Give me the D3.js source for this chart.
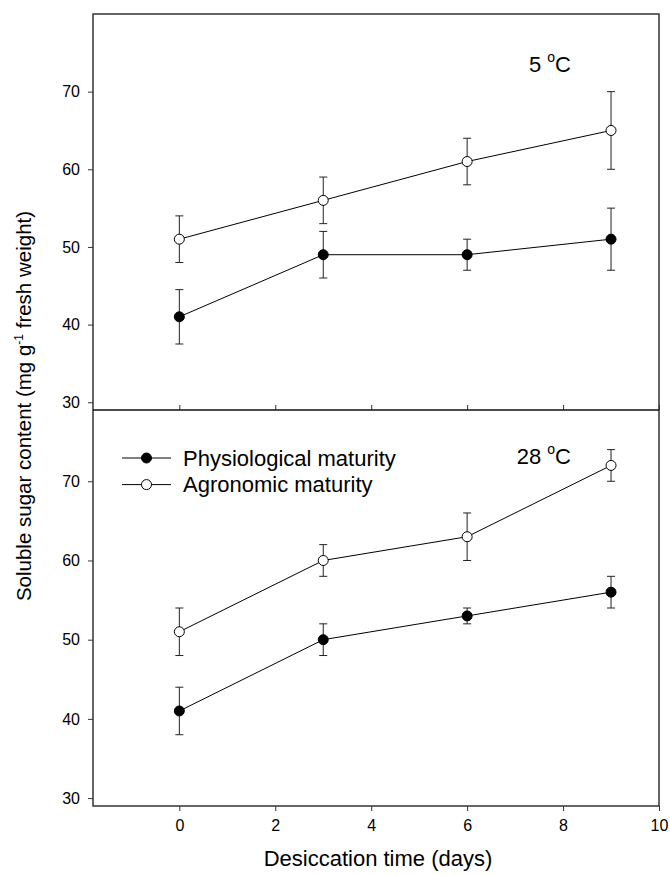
<!DOCTYPE html>
<html>
<head>
<meta charset="utf-8">
<script src="https://cdn.jsdelivr.net/npm/d3@7"></script>
<style>
    body { margin: 0; background: #fff; }
    svg text { font-family: "Liberation Sans", Arial, sans-serif; fill: #000; }
</style>
</head>
<body>
<div id="chart"></div>
<script>

// desiccation days
let days = [0, 3, 6, 9];
let xTicks = [0, 2, 4, 6, 8, 10];
let yTicks = [30, 40, 50, 60, 70];

// 5 C panel
let physio5 = [41, 49, 49, 51];
let physio5Err = [3.5, 3, 2, 4];
let agro5 = [51, 56, 61, 65];
let agro5Err = [3, 3, 3, 5];

// 28 C panel
let physio28 = [41, 50, 53, 56];
let physio28Err = [3, 2, 1, 2];
let agro28 = [51, 60, 63, 72];
let agro28Err = [3, 2, 3, 2];

let seriesNames = ["Physiological maturity", "Agronomic maturity"];

let width = 670, height = 875;
let left = 93, right = 659;
let topPanel = {y0: 14, y1: 410, domain: [29, 80], label: "5", isBottom: false};
let botPanel = {y0: 410, y1: 806, domain: [29, 79], label: "28", isBottom: true};

let svg = d3.select("#chart").append("svg")
    .attr("width", width)
    .attr("height", height);

let x = d3.scaleLinear().domain([-1.8, 10]).range([left, right]);

function drawPanel(p, physio, physioErr, agro, agroErr) {
    let y = d3.scaleLinear().domain(p.domain).range([p.y1, p.y0]);
    let g = svg.append("g");

    // y axis, ticks pointing out
    g.append("g")
        .attr("transform", `translate(${left},0)`)
        .call(d3.axisLeft(y).tickValues(yTicks).tickSize(5).tickPadding(8).tickFormat(d3.format("d")))
        .call(a => a.select(".domain").remove())
        .call(a => a.selectAll("line").attr("stroke", "#333"))
        .call(a => a.selectAll("text").style("font-size", "16px").attr("fill", "#000"));

    // x axis - labels only on bottom panel
    let xa = p.isBottom
        ? d3.axisBottom(x).tickValues(xTicks).tickSize(5).tickPadding(9)
        : d3.axisTop(x).tickValues(xTicks).tickSize(5).tickFormat("");
    g.append("g")
        .attr("transform", `translate(0,${p.y1})`)
        .call(xa)
        .call(a => a.select(".domain").remove())
        .call(a => a.selectAll("line").attr("stroke", "#333"))
        .call(a => a.selectAll("text").style("font-size", "16px").attr("fill", "#000"));

    let rows = [
        {vals: physio, err: physioErr, fill: "#000"},
        {vals: agro, err: agroErr, fill: "#fff"}
    ];

    let line = d3.line()
        .x((d, i) => x(days[i]))
        .y(d => y(d));

    rows.forEach(r => {
        let pts = r.vals.map((v, i) => ({x: days[i], v: v, e: r.err[i]}));

        // error bars
        let eb = g.append("g").attr("stroke", "#222").attr("stroke-width", 1);
        eb.selectAll(".ev").data(pts).enter().append("line")
            .attr("x1", d => x(d.x)).attr("x2", d => x(d.x))
            .attr("y1", d => y(d.v - d.e)).attr("y2", d => y(d.v + d.e));
        eb.selectAll(".cap-hi").data(pts).enter().append("line")
            .attr("x1", d => x(d.x) - 4).attr("x2", d => x(d.x) + 4)
            .attr("y1", d => y(d.v + d.e)).attr("y2", d => y(d.v + d.e));
        eb.selectAll(".cap-lo").data(pts).enter().append("line")
            .attr("x1", d => x(d.x) - 4).attr("x2", d => x(d.x) + 4)
            .attr("y1", d => y(d.v - d.e)).attr("y2", d => y(d.v - d.e));

        g.append("path")
            .datum(r.vals)
            .attr("d", line)
            .attr("fill", "none")
            .attr("stroke", "#000")
            .attr("stroke-width", 1);
    });

    // markers on top
    rows.forEach(r => {
        g.selectAll(null).data(r.vals).enter().append("circle")
            .attr("cx", (d, i) => x(days[i]))
            .attr("cy", d => y(d))
            .attr("r", 5)
            .attr("fill", r.fill)
            .attr("stroke", "#000")
            .attr("stroke-width", 1);
    });

    // temperature label
    let t = g.append("text")
        .attr("x", 571)
        .attr("y", p.isBottom ? 464 : 72)
        .attr("text-anchor", "end")
        .style("font-size", "22px");
    t.append("tspan").text(p.label + " ");
    t.append("tspan").text("o").style("font-size", "14px").attr("dy", -10);
    t.append("tspan").text("C").attr("dy", 10);
}

drawPanel(topPanel, physio5, physio5Err, agro5, agro5Err);
drawPanel(botPanel, physio28, physio28Err, agro28, agro28Err);

// frame
svg.append("rect")
    .attr("x", left).attr("y", topPanel.y0)
    .attr("width", right - left).attr("height", botPanel.y1 - topPanel.y0)
    .attr("fill", "none").attr("stroke", "#333").attr("stroke-width", 1.5);
svg.append("line")
    .attr("x1", left).attr("x2", right)
    .attr("y1", topPanel.y1).attr("y2", topPanel.y1)
    .attr("stroke", "#111").attr("stroke-width", 1.5);

// legend
let legend = svg.append("g").attr("transform", "translate(122,458)");
seriesNames.forEach((name, i) => {
    let row = legend.append("g").attr("transform", `translate(0,${i * 26.6})`);
    row.append("line").attr("x1", 0).attr("x2", 49).attr("y1", 0).attr("y2", 0)
        .attr("stroke", "#000").attr("stroke-width", 1);
    row.append("circle").attr("cx", 24.5).attr("cy", 0).attr("r", 5)
        .attr("fill", i == 0 ? "#000" : "#fff").attr("stroke", "#000");
    row.append("text").attr("x", 61).attr("y", 7.5)
        .style("font-size", "22px").text(name);
});

// axis titles
svg.append("text")
    .attr("x", (left + right) / 2 + 2)
    .attr("y", 866)
    .attr("text-anchor", "middle")
    .style("font-size", "22px")
    .text("Desiccation time (days)");

let yl = svg.append("text")
    .attr("transform", "translate(31,406) rotate(-90)")
    .attr("text-anchor", "middle")
    .style("font-size", "20.5px");
yl.append("tspan").text("Soluble sugar content (mg g");
yl.append("tspan").text("-1").style("font-size", "12px").attr("dy", -8);
yl.append("tspan").text(" fresh weight)").attr("dy", 8);

</script>
</body>
</html>
